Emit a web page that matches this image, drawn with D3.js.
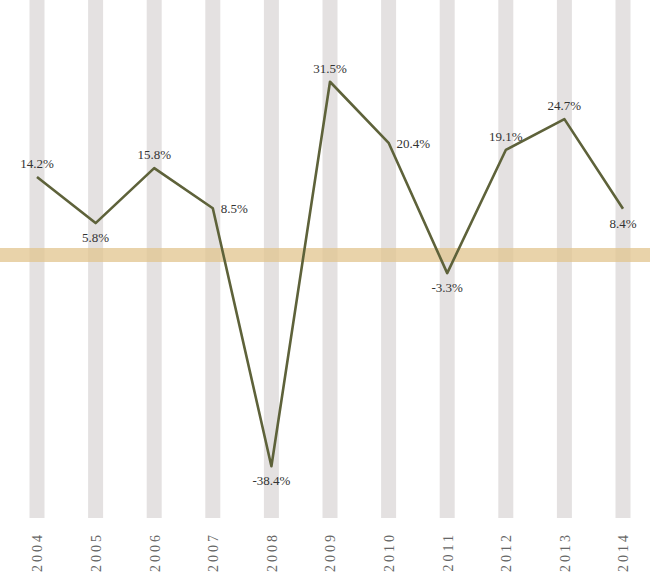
<!DOCTYPE html>
<html>
<head>
<meta charset="utf-8">
<script src="https://cdn.jsdelivr.net/npm/d3@7"></script>
<style>
  body { margin: 0; background: #fff; }
  svg text { font-family: "Liberation Serif", "DejaVu Serif", serif; }
</style>
</head>
<body>
<svg id="growth-chart"></svg>
<script>
// data
var years = ["2004", "2005", "2006", "2007", "2008", "2009", "2010", "2011", "2012", "2013", "2014"];
var values = [14.2, 5.8, 15.8, 8.5, -38.4, 31.5, 20.4, -3.3, 19.1, 24.7, 8.4];
var labelSide = ["above", "below", "above", "right", "below", "above", "right", "below", "above", "above", "below"];

var width = 650,
    height = 578;

var svg = d3.select("svg#growth-chart")
    .attr("width", width)
    .attr("height", height);

var x = d3.scalePoint()
    .domain(years)
    .range([37, 623]);

var y = d3.scaleLinear()
    .domain([-46, 46])
    .range([508, 2]);

var barWidth = 15,
    barBottom = 518;

var fields = years.map(function (d, i) {
    return {year: d, value: values[i], side: labelSide[i]};
});

// gray column behind every year
svg.append("g")
    .selectAll("rect")
    .data(fields)
    .enter()
    .append("rect")
    .attr("x", function (d) { return x(d.year) - barWidth / 2; })
    .attr("y", 0)
    .attr("width", barWidth)
    .attr("height", barBottom)
    .attr("fill", "#e4e1e1");

// zero band
svg.append("rect")
    .attr("x", 0)
    .attr("y", y(0) - 7)
    .attr("width", width)
    .attr("height", 14)
    .attr("fill", "#e2c48e")
    .attr("opacity", 0.75);

// line
var line = d3.line()
    .x(function (d) { return x(d.year); })
    .y(function (d) { return y(d.value); });

svg.append("path")
    .datum(fields)
    .attr("d", line)
    .attr("fill", "none")
    .attr("stroke", "#5e623a")
    .attr("stroke-width", 2.6)
    .attr("stroke-linejoin", "round");

// value labels
svg.append("g")
    .selectAll("text")
    .data(fields)
    .enter()
    .append("text")
    .attr("x", function (d) {
        return d.side === "right" ? x(d.year) + 8 : x(d.year);
    })
    .attr("y", function (d) {
        if (d.side === "above") return y(d.value) - 9;
        if (d.side === "below") return y(d.value) + 19;
        return y(d.value) + 5;
    })
    .attr("text-anchor", function (d) {
        return d.side === "right" ? "start" : "middle";
    })
    .attr("font-size", 13)
    .attr("fill", "#333")
    .text(function (d) { return d.value.toFixed(1) + "%"; });

// year labels, rotated
var xAxis = d3.axisBottom(x).tickSize(0).tickPadding(0);
var gx = svg.append("g")
    .attr("transform", "translate(0," + 532 + ")")
    .call(xAxis);
gx.select(".domain").remove();
gx.selectAll("text")
    .attr("transform", "rotate(-90)")
    .attr("text-anchor", "end")
    .attr("x", 0)
    .attr("y", 0)
    .attr("dy", "0.35em")
    .attr("font-size", 14)
    .attr("letter-spacing", "3px")
    .attr("fill", "#666")
    .style("font-family", "'Liberation Serif', serif");
</script>
</body>
</html>
